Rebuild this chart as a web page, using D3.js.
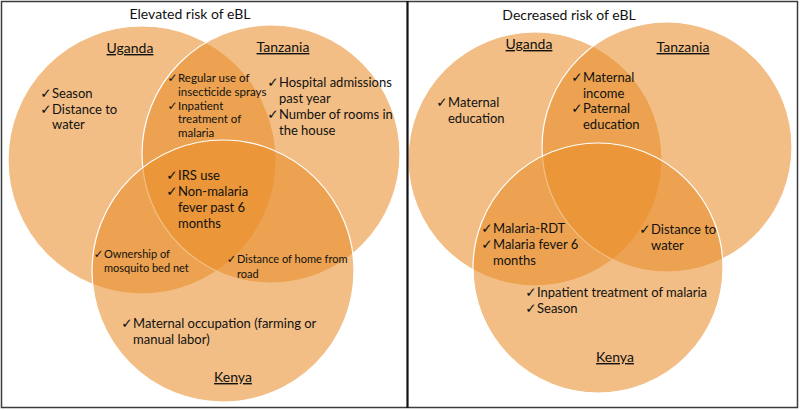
<!DOCTYPE html>
<html>
<head>
<meta charset="utf-8">
<script src="https://cdn.jsdelivr.net/npm/d3@7"></script>
<style>
  body { margin: 0; background: #fff; }
  text { font-family: Lato, "Noto Sans", sans-serif; fill: #111; }
  .check { font-family: "DejaVu Sans", sans-serif; }
</style>
</head>
<body>
<script>

/* Data: text of every factor, grouped by the Venn region it sits in.
   U = Uganda, T = Tanzania, K = Kenya. Each factor is a list of its lines */
var panelTitles = ["Elevated risk of eBL", "Decreased risk of eBL"];
var countries = ["Uganda", "Tanzania", "Kenya"];

var elevatedU   = [["Season"], ["Distance to", "water"]];
var elevatedT   = [["Hospital admissions", "past year"], ["Number of rooms in", "the house"]];
var elevatedK   = [["Maternal occupation (farming or", "manual labor)"]];
var elevatedUT  = [["Regular use of", "insecticide sprays"], ["Inpatient", "treatment of", "malaria"]];
var elevatedUK  = [["Ownership of", "mosquito bed net"]];
var elevatedTK  = [["Distance of home from", "road"]];
var elevatedUTK = [["IRS use"], ["Non-malaria", "fever past 6", "months"]];

var decreasedU   = [["Maternal", "education"]];
var decreasedT   = [];
var decreasedK   = [["Inpatient treatment of malaria"], ["Season"]];
var decreasedUT  = [["Maternal", "income"], ["Paternal", "education"]];
var decreasedUK  = [["Malaria-RDT"], ["Malaria fever 6", "months"]];
var decreasedTK  = [["Distance to", "water"]];
var decreasedUTK = [];

var panelData = [
	{U: elevatedU, T: elevatedT, K: elevatedK, UT: elevatedUT, UK: elevatedUK, TK: elevatedTK, UTK: elevatedUTK},
	{U: decreasedU, T: decreasedT, K: decreasedK, UT: decreasedUT, UK: decreasedUK, TK: decreasedTK, UTK: decreasedUTK}
];

/* Layout (pixels) */
var width = 800,
	height = 410,
	fillColor = "#e88c28",
	fillOpacity = 0.57;

var panelLayout = [
	{
		title: [190, 19],
		circles: [[142, 160, 134], [271, 154, 129], [223, 271, 131]],
		labels: [[130, 53], [283, 52], [233, 382]],
		blocks: {
			U:   {cx: 42,  tx: 52,  y: 98,  lh: 15.5, fs: 13},
			T:   {cx: 270, tx: 279, y: 87,  lh: 16,   fs: 13},
			K:   {cx: 123, tx: 133, y: 328, lh: 15.5, fs: 13},
			UT:  {cx: 167, tx: 178, y: 82,  lh: 13.8, fs: 11.5},
			UK:  {cx: 94,  tx: 104, y: 258, lh: 14,   fs: 11},
			TK:  {cx: 228, tx: 237, y: 263, lh: 15,   fs: 11},
			UTK: {cx: 168, tx: 178, y: 180, lh: 16,   fs: 13}
		}
	},
	{
		title: [569, 20],
		circles: [[535, 159, 127], [667, 147, 125], [598, 268, 125]],
		labels: [[529, 49], [683, 52], [615, 362]],
		blocks: {
			U:   {cx: 437, tx: 448, y: 107, lh: 16,   fs: 13},
			T:   {cx: 0,   tx: 0,   y: 0,   lh: 16,   fs: 13},
			K:   {cx: 527, tx: 537, y: 297, lh: 16,   fs: 13},
			UT:  {cx: 573, tx: 583, y: 82,  lh: 15.7, fs: 13},
			UK:  {cx: 482, tx: 493, y: 233, lh: 16,   fs: 13},
			TK:  {cx: 640, tx: 651, y: 234, lh: 16,   fs: 13},
			UTK: {cx: 0,   tx: 0,   y: 0,   lh: 16,   fs: 13}
		}
	}
];

var svg = d3.select("body").append("svg")
	.attr("width", width)
	.attr("height", height);

/* frame */
svg.append("rect")
	.attr("x", 1.5).attr("y", 1.5)
	.attr("width", 796).attr("height", 406)
	.attr("fill", "none")
	.attr("stroke", "#3c3c3c")
	.attr("stroke-width", 1.5);

panelLayout.forEach(function(p, i) {
	var g = svg.append("g").attr("class", "panel");

	/* circles, drawn in country order so Kenya's white rim sits on top */
	g.selectAll("circle")
		.data(p.circles)
		.enter().append("circle")
			.attr("cx", function(d) { return d[0]; })
			.attr("cy", function(d) { return d[1]; })
			.attr("r", function(d) { return d[2]; })
			.attr("fill", fillColor)
			.attr("fill-opacity", fillOpacity)
			.attr("stroke", "#fff")
			.attr("stroke-width", 1.2);

	/* panel title */
	g.append("text")
		.attr("x", p.title[0]).attr("y", p.title[1])
		.attr("text-anchor", "middle")
		.style("font-size", "14px")
		.text(panelTitles[i]);

	/* country labels */
	g.selectAll(".country")
		.data(countries)
		.enter().append("text")
			.attr("class", "country")
			.attr("x", function(d, j) { return p.labels[j][0]; })
			.attr("y", function(d, j) { return p.labels[j][1]; })
			.attr("text-anchor", "middle")
			.style("font-size", "14px")
			.style("text-decoration", "underline")
			.text(function(d) { return d; });

	/* factor lists, a check mark before each factor */
	Object.keys(panelData[i]).forEach(function(region) {
		var items = panelData[i][region],
			b = p.blocks[region],
			line = 0;
		items.forEach(function(item) {
			g.append("text")
				.attr("class", "check")
				.attr("x", b.tx - 0.5)
				.attr("y", b.y + line * b.lh)
				.attr("text-anchor", "end")
				.style("font-size", (b.fs + 0.5) + "px")
				.text("\u2713");
			item.forEach(function(t) {
				g.append("text")
					.attr("x", b.tx)
					.attr("y", b.y + line * b.lh)
					.style("font-size", b.fs + "px")
					.text(t);
				line++;
			});
		});
	});
});

/* divider between the two panels */
svg.append("line")
	.attr("x1", 407.5).attr("x2", 407.5)
	.attr("y1", 1).attr("y2", 408)
	.attr("stroke", "#111")
	.attr("stroke-width", 2.2);

</script>
</body>
</html>
